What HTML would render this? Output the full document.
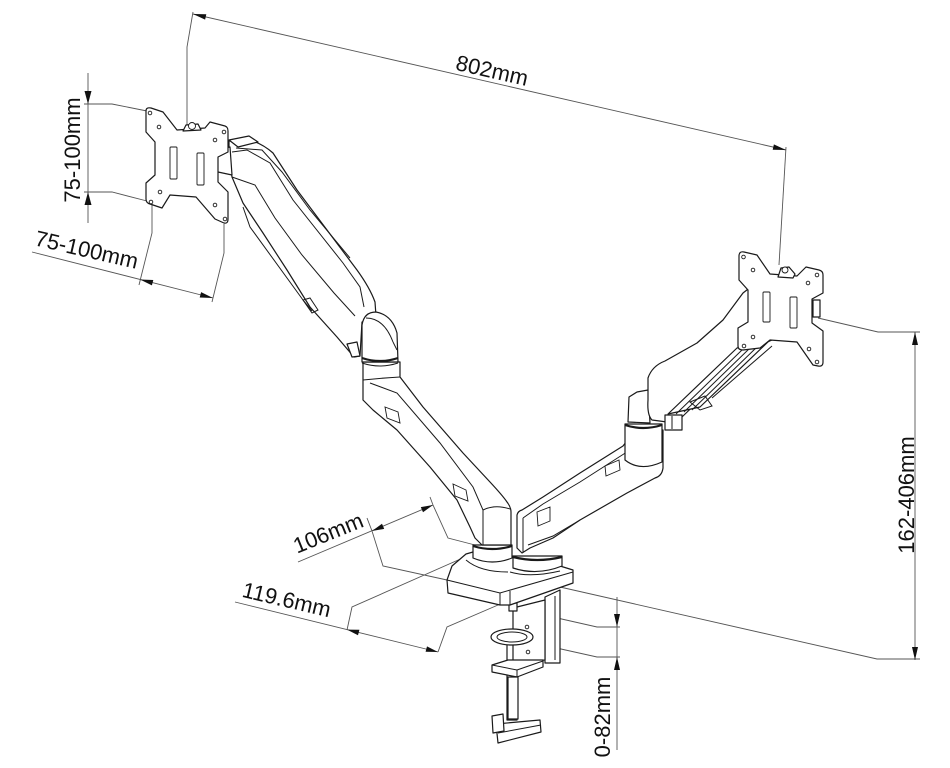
<!DOCTYPE html>
<html>
<head>
<meta charset="utf-8">
<style>
html,body{margin:0;padding:0;background:#fff;}
svg{display:block;}
text{font-family:"Liberation Sans",Arial,sans-serif;font-size:22px;fill:#111;}
.d{fill:none;stroke:#555;stroke-width:0.9;}
.a{fill:#111;stroke:none;}
.p{fill:#fff;stroke:#1a1a1a;stroke-width:1.2;stroke-linejoin:round;}
.l{fill:none;stroke:#1a1a1a;stroke-width:1;}
.k{fill:none;stroke:#1a1a1a;stroke-width:2.2;}
.h{fill:#fff;stroke:#1a1a1a;stroke-width:0.9;}
</style>
</head>
<body>
<svg width="950" height="768" viewBox="0 0 950 768" xmlns="http://www.w3.org/2000/svg">

<!-- ===== Dimension lines (behind) ===== -->
<line class="d" x1="193" y1="14" x2="786" y2="150"/>
<polyline class="d" points="187,128 187,47 193,12"/>
<polyline class="d" points="786,147 779,265"/>
<polygon class="a" points="193,14 205.1,19.6 206.3,14.2"/>
<polygon class="a" points="786,150 772.7,149.8 773.9,144.4"/>
<text x="492" y="78" text-anchor="middle" transform="rotate(12.9 492 71)">802mm</text>

<line class="d" x1="88" y1="73" x2="88" y2="223"/>
<polyline class="d" points="84,104 112,104 147,111"/>
<polyline class="d" points="84,192 112,192 147,201"/>
<polygon class="a" points="88,104 84.5,91 91.5,91"/>
<polygon class="a" points="88,192 84.5,205 91.5,205"/>
<text x="72" y="158" text-anchor="middle" transform="rotate(-90 72 150)">75-100mm</text>

<line class="d" x1="32" y1="252" x2="213" y2="298"/>
<polyline class="d" points="152,205 152,233 139,285"/>
<polyline class="d" points="224,224 224,253 212,302"/>
<polygon class="a" points="140,279.5 151.9,285.4 153.3,280"/>
<polygon class="a" points="213,298 199.7,297.5 201.1,292.1"/>
<text x="85" y="257" text-anchor="middle" transform="rotate(13 85 257)">75-100mm</text>

<line class="d" x1="915" y1="332" x2="915" y2="660"/>
<polyline class="d" points="818,318 878,332 920,332"/>
<polyline class="d" points="560,587 877,659 920,659"/>
<polygon class="a" points="915,332 912,345 918,345"/>
<polygon class="a" points="915,660 912,647 918,647"/>
<text x="906" y="503" text-anchor="middle" transform="rotate(-90 906 495)">162-406mm</text>

<line class="d" x1="298" y1="562" x2="433" y2="505"/>
<polyline class="d" points="367,518 372,531 383,566 447,580"/>
<polyline class="d" points="430,497 433,505 448,538 475,545"/>
<polygon class="a" points="372,531 384.2,528.9 382,523.7"/>
<polygon class="a" points="433,505 423,512.3 420.8,507.1"/>
<text x="331" y="540" text-anchor="middle" transform="rotate(-22 331 540)">106mm</text>

<line class="d" x1="235" y1="602" x2="438" y2="652"/>
<polyline class="d" points="347,630 352,607 465,557"/>
<polyline class="d" points="438,652 447,627 505,602"/>
<polygon class="a" points="347,629.6 358,635.2 359.4,629.8"/>
<polygon class="a" points="438,652 425.6,651.8 427,646.4"/>
<text x="285" y="607" text-anchor="middle" transform="rotate(13.3 285 607)">119.6mm</text>

<line class="d" x1="617" y1="597" x2="617" y2="750"/>
<polyline class="d" points="513,608 597,627 620,627"/>
<polyline class="d" points="552,647 597,657 620,657"/>
<polygon class="a" points="617,627 614,614 620,614"/>
<polygon class="a" points="617,657 614,670 620,670"/>
<text x="602" y="725" text-anchor="middle" transform="rotate(-90 602 717)">0-82mm</text>

<!-- ===== Clamp & base ===== -->
<rect class="p" x="507" y="640" width="10" height="80"/>
<polygon class="p" points="545,597 560,590 560,663 545,663"/>
<line class="l" x1="555" y1="596" x2="555" y2="660"/>
<polygon class="p" points="513,608 545,600 545,660 513,662"/>
<circle class="h" cx="527" cy="627" r="1.8"/>
<circle class="h" cx="528" cy="652" r="1.8"/>
<polygon class="p" points="492,665 508,660 543,660 543,667 517,677 492,672"/>
<line class="l" x1="492" y1="665" x2="517" y2="670"/>
<line class="l" x1="517" y1="670" x2="543" y2="661"/>
<line class="l" x1="517" y1="670" x2="517" y2="677"/>
<rect class="p" x="508" y="677" width="10" height="42"/>
<ellipse class="p" cx="512" cy="637" rx="21" ry="8"/>
<ellipse class="l" cx="512" cy="637" rx="15" ry="5"/>
<polygon class="p" points="496,724 540,720 541,732 498,743"/>
<line class="l" x1="498" y1="733" x2="541" y2="725"/>
<polygon class="p" points="492,716 503,714 504,731 493,733"/>
<rect class="p" x="509" y="603" width="8" height="8"/>

<polygon class="p" points="447,580 452,566 466,554 480,550 512,556 540,560 560,566 573,570 573,583 510,605 500,605 448,593"/>
<polyline class="l" points="447,580 500,593 573,572"/>
<line class="l" x1="500" y1="593" x2="500" y2="605"/>
<line class="l" x1="510" y1="591" x2="510" y2="605"/>
<path class="l" d="M466,560 Q480,572 508,572"/>
<path class="l" d="M510,572 Q530,578 560,571"/>

<!-- base cylinders -->
<path class="p" d="M473,545 L473,558 Q492,566 512,558 L512,545 Z"/>
<path class="k" d="M473,546 Q492,552 512,546"/>
<path class="p" d="M513,556 L513,568 Q537,576 562,566 L562,556 Z"/>
<path class="k" d="M513,557 Q537,563 562,557"/>

<!-- ===== Right lower arm ===== -->
<path class="p" d="M517,515 Q518,511 522,510 L543,497 L580,473 L623,446 L630,437 L663,430 L663,468 Q662,476 655,478 L627,493 L580,520 L553,538 L530,548 L522,553 L517,548 Z"/>
<polyline class="l" points="523,518 543,504 580,482 630,450"/>
<line class="l" x1="523" y1="518" x2="523" y2="553"/>
<polyline class="l" points="528,545 553,536 580,520"/>
<polygon class="h" points="537,512 550,507 550,521 538,526"/>
<polygon class="h" points="605,466 619,460 620,470 606,476"/>
<!-- right elbow -->
<path class="p" d="M625,424 L625,460 Q640,472 662,462 L662,424 Z"/>
<path class="k" d="M625,425 Q643,431 662,425"/>
<polygon class="p" points="628,422 629,397 637,392 648,390 650,423"/>

<!-- ===== Right upper arm ===== -->
<path class="p" d="M648,378 Q652,366 665,361 L697,343 L723,320 L743,293 L752,286 L775,300 L772,340 L745,352 L713,387 L682,417 L667,422 L652,420 Q647,415 648,400 Z"/>
<polygon class="p" points="668,414 737,348 770,340 700,407"/>
<polyline class="l" points="676,414 742,350"/>
<polyline class="l" points="684,412 750,348"/>
<polyline class="l" points="692,410 758,346"/>
<polyline class="l" points="712,398 772,346"/>
<polygon class="l" points="690,402 705,396 712,406 700,410"/>
<rect class="p" x="665" y="415" width="17" height="15"/>
<line class="l" x1="672" y1="416" x2="672" y2="429"/>

<!-- right plate -->
<path class="p" d="M739,256 Q739,251 744,252 L757,255 L770,274 L797,276 L806,267 L819,270 Q823,271 823,275 L823,293 L812,299 L812,323 L823,331 L823,362 Q823,367 818,366 L813,365 L797,342 L770,340 L760,348 L743,350 Q738,350 738,346 L738,328 L748,322 L748,290 L739,280 Z"/>
<circle class="h" cx="743.5" cy="257" r="1.8"/>
<circle class="h" cx="753" cy="270" r="1.8"/>
<circle class="h" cx="808" cy="283" r="1.8"/>
<circle class="h" cx="817" cy="275" r="1.8"/>
<circle class="h" cx="753" cy="337" r="1.8"/>
<circle class="h" cx="744" cy="346" r="1.8"/>
<circle class="h" cx="809" cy="349" r="1.8"/>
<circle class="h" cx="817" cy="362" r="1.8"/>
<rect class="h" x="763" y="292" width="7" height="30" rx="1"/>
<rect class="h" x="790" y="297" width="7" height="31" rx="1"/>
<polygon class="p" points="778,277 781,268 789,267 795,274 793,278"/>
<circle class="h" cx="785" cy="270" r="3"/>
<rect class="p" x="813" y="300" width="7" height="17"/>

<!-- ===== Left lower arm ===== -->
<path class="p" d="M363,362 L400,362 L400,377 L423,407 L463,453 L490,482 Q503,496 507,502 Q511,507 511,512 L511,545 L482,545 L475,538 L470,527 L457,500 L430,467 L397,430 L373,410 L363,400 Z"/>
<path class="l" d="M363,380 Q382,378 400,377"/>
<polyline class="l" points="370,383 397,393 440,443 473,487 483,510 483,545"/>
<path class="l" d="M483,510 Q495,504 510,509"/>
<polygon class="h" points="385,407 398,412 400,423 387,418"/>
<polygon class="h" points="453,484 466,490 468,501 455,496"/>

<!-- ===== Left upper arm ===== -->
<path class="p" d="M229,141 L253,141 Q264,145 273,153 L297,190 L327,230 L357,270 Q370,288 375,302 L376,316 L362,322 L360,356 L354,357 L337,337 L310,307 L287,270 L263,233 L243,203 L232,177 L229,160 Z"/>
<polyline class="l" points="232,152 247,150 270,163 293,200 343,263 360,287 364,307"/>
<polyline class="l" points="236,148 262,150 282,172 310,210 350,258"/>
<polyline class="l" points="243,207 250,227 303,300 312,311"/>
<polyline class="l" points="232,177 255,185 275,218 302,255 334,293 355,316"/>
<polygon class="l" points="303,300 310,298 318,310 312,313"/>
<polygon class="p" points="347,344 357,342 360,356 352,357"/>
<polygon class="p" points="229,140 249,136 258,142 238,147"/>
<!-- left knuckle -->
<path class="p" d="M362,362 L362,325 Q364,312 376,312 Q392,315 397,333 L398,362 Z"/>
<path class="l" d="M366,318 Q384,318 393,342"/>
<path class="l" d="M393,342 L397,350"/>
<path class="k" d="M362,358 Q380,364 398,358"/>
<path class="l" d="M362,363 Q380,369 398,363"/>

<polygon class="p" points="216,150 230,147 232,175 218,172"/>

<!-- left plate -->
<path class="p" d="M146,111 Q146,107 151,108 L163,112 L177,130 L205,128 L210,122 L225,126 Q228,127 228,131 L228,152 L218,157 L218,182 L228,192 L228,219 Q228,224 224,223 L215,219 L196,197 L170,195 L162,208 L150,204 Q146,203 146,199 L146,183 L155,175 L155,142 L146,132 Z"/>
<circle class="h" cx="150" cy="113" r="1.8"/>
<circle class="h" cx="159" cy="127" r="1.8"/>
<circle class="h" cx="224" cy="132" r="1.8"/>
<circle class="h" cx="215" cy="140" r="1.8"/>
<circle class="h" cx="160" cy="192" r="1.8"/>
<circle class="h" cx="151" cy="202" r="1.8"/>
<circle class="h" cx="215" cy="205" r="1.8"/>
<circle class="h" cx="225" cy="219" r="1.8"/>
<rect class="h" x="170" y="147" width="7" height="32" rx="1"/>
<rect class="h" x="197" y="153" width="7" height="32" rx="1"/>
<polygon class="p" points="183,131 186,125 198,124 201,130"/>
<circle class="h" cx="192" cy="126" r="3.5"/>

</svg>
</body>
</html>
